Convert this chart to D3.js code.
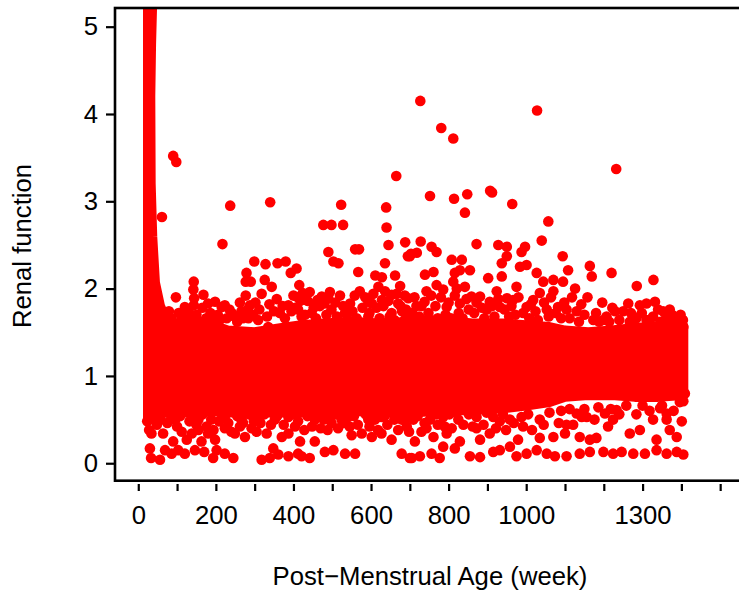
<!DOCTYPE html>
<html>
<head>
<meta charset="utf-8">
<script src="https://cdn.jsdelivr.net/npm/d3@7"></script>
<style>
  body { margin: 0; background: #fff; }
  text { font-family: "Liberation Sans", Arial, Helvetica, sans-serif; }
</style>
</head>
<body>
<script>
// ticks
var xTicks = [0, 100, 200, 300, 400, 500, 600, 700, 800, 900, 1000, 1100, 1200, 1300, 1400, 1500];
var xLabels = [0, 200, 400, 600, 800, 1000, 1300];
var yTicks = [0, 1, 2, 3, 4, 5];

// overplotted solid core of the cloud (week, upper value, lower value)
var coreWeek = [25, 36, 33, 31, 32, 36, 43, 56, 70, 90, 120, 180, 230, 300, 370, 420, 480, 550, 620, 700, 780, 860, 940, 1000, 1060, 1100, 1160, 1220, 1280, 1340, 1405];
var coreHigh = [5.3, 5.3, 4.8, 4.2, 3.2, 2.6, 2.07, 1.8, 1.66, 1.6, 1.58, 1.6, 1.52, 1.5, 1.55, 1.58, 1.6, 1.62, 1.6, 1.62, 1.64, 1.6, 1.6, 1.58, 1.56, 1.52, 1.5, 1.52, 1.55, 1.57, 1.57];
var coreLow = [0.5, 0.5, 0.5, 0.5, 0.5, 0.53, 0.56, 0.58, 0.58, 0.6, 0.58, 0.6, 0.58, 0.58, 0.58, 0.58, 0.6, 0.6, 0.58, 0.58, 0.6, 0.61, 0.63, 0.66, 0.7, 0.76, 0.78, 0.78, 0.76, 0.76, 0.78];

// single points above the core [week, value]
var upperPoints = [
  [90,3.52],[98,3.45],[61,2.82],[237,2.95],[217,2.51],[340,2.99],[727,4.15],[1028,4.04],[781,3.84],[812,3.72],
  [1232,3.37],[665,3.29],[752,3.06],[814,3.03],[848,3.08],[907,3.12],[912,3.1],[964,2.97],[639,2.93],[523,2.96],
  [477,2.73],[498,2.73],[528,2.73],[1057,2.77],[842,2.87],[640,2.7],[569,2.45],[559,2.45],[490,2.42],[503,2.31],
  [516,2.29],[645,2.5],[688,2.53],[636,2.29],[1040,2.55],[728,2.54],[756,2.48],[769,2.42],[872,2.51],[928,2.5],
  [950,2.48],[997,2.48],[988,2.42],[700,2.37],[718,2.41],[695,2.37],[703,2.4],[808,2.33],[834,2.33],[855,2.21],
  [829,2.21],[816,2.18],[937,2.29],[950,2.37],[984,2.25],[1001,2.27],[1094,2.37],[1108,2.21],[1164,2.26],[1169,2.14],
  [1220,2.18],[1285,2.03],[1328,2.1],[761,2.19],[739,2.16],[902,2.12],[937,2.14],[1027,2.18],[1044,2.08],[1070,2.1],
  [1095,2.08],[1126,2.0],[299,2.31],[328,2.28],[359,2.29],[380,2.31],[408,2.23],[393,2.18],[279,2.18],[277,2.08],
  [290,2.08],[326,2.1],[344,2.02],[415,2.04],[424,1.95],[411,1.9],[418,1.86],[143,2.08],[142,1.99],[144,1.89],
  [97,1.9],[168,1.93],[79,1.74],[143,1.81],[198,1.85],[215,1.79],[223,1.81],[277,1.92],[288,1.81],[266,1.74],
  [284,1.66],[365,1.72],[335,1.56],[387,1.81],[404,1.78],[473,1.91],[490,1.89],[455,1.83],[447,1.72],[498,1.76],
  [567,2.19],[611,2.15],[628,2.13],[662,2.15],[675,2.03],[696,1.89],[571,1.97],[593,1.85],[546,1.83],[533,1.72],
  [619,2.02],[636,1.97],[653,1.93],[628,1.87],[602,1.83],[670,1.83],[680,1.74],[462,1.87],[480,1.83],
  [743,1.97],[769,2.04],[786,1.99],[812,2.08],[821,2.0],[842,2.02],[859,1.91],[881,1.91],[924,1.97],[950,1.89],
  [975,2.02],[966,1.87],[906,1.85],[1018,1.87],[1035,1.95],[1070,1.97],[1082,1.79],[1104,1.76],[1130,1.74],
  [1229,1.74],[1263,1.83],[1293,1.81],[1310,1.83],[1332,1.85],[1353,1.74],[1370,1.76],[1267,1.62],[1199,1.64],
  [1310,1.64],[1362,1.66],[1405,1.56],[687,1.92],[717,1.8],[738,1.85],
  [120,1.79],[180,1.83],[241,1.72],[309,1.64],[421,1.68],[541,1.72],[593,1.68],[653,1.72],[687,1.64],
  [795,1.79],[829,1.83],[898,1.76],[932,1.79],[1001,1.79],[1053,1.76],[1173,1.64],[1207,1.68],[1276,1.68],
  [1327,1.68],[1379,1.64],
  [65,1.7],[72,1.62],[85,1.66],[104,1.72],[108,1.62],[118,1.68],[130,1.74],[136,1.64],[150,1.7],[158,1.62],
  [165,1.78],[175,1.66],[186,1.72],[192,1.62],[205,1.7],[210,1.64],[228,1.66],[235,1.76],[248,1.68],[255,1.62],
  [262,1.84],[270,1.66],[282,1.76],[296,1.7],[302,1.84],[312,1.76],[318,1.94],[332,1.68],[338,1.82],[350,1.74],
  [357,1.88],[372,1.8],[378,1.66],[395,1.74],[400,1.92],[412,1.76],[430,1.7],[436,1.86],[442,1.96],[452,1.78],
  [458,1.66],[468,1.8],[485,1.7],[494,1.96],[508,1.84],[512,1.68],[520,1.92],[528,1.8],[538,1.64],[552,1.74],
  [558,1.92],[563,1.66],[578,1.78],[585,1.9],[596,1.72],[606,1.94],[614,1.78],[622,1.66],[632,1.8],[645,1.86],
  [648,1.68],[660,1.64],[666,1.94],[676,1.8],[690,1.76],[694,1.66],[706,1.72],[712,1.9],[724,1.68],[730,1.8],
  [748,1.72],[755,1.92],[766,1.8],[772,1.66],[780,1.9],[792,1.7],[800,1.84],[806,1.66],[816,1.92],[826,1.72],
  [836,1.66],[846,1.88],[852,1.76],[866,1.72],[872,1.84],[886,1.78],[892,1.66],[912,1.8],[918,1.68],[928,1.88],
  [944,1.76],[956,1.68],[962,1.8],[972,1.7],[980,1.9],[992,1.72],[1008,1.66],[1012,1.82],[1024,1.74],[1030,1.64],
  [1046,1.84],[1058,1.68],[1064,1.9],[1076,1.72],[1090,1.66],[1098,1.84],[1112,1.66],[1118,1.9],[1136,1.62],
  [1142,1.82],[1150,1.7],[1158,1.9],[1180,1.72],[1188,1.62],[1196,1.84],[1214,1.62],[1222,1.78],[1240,1.64],
  [1250,1.74],[1270,1.72],[1284,1.66],[1298,1.72],[1318,1.62],[1340,1.76],[1346,1.62],[1358,1.72],[1376,1.7],
  [1388,1.62],[1398,1.7],[1404,1.64]
];

// single points below the core [week, value]
var lowerPoints = [
  [23,0.48],[34,0.34],[30,0.17],[33,0.06],[56,0.04],[69,0.15],[86,0.11],[103,0.15],[120,0.11],[90,0.25],
  [125,0.27],[112,0.36],[138,0.34],[155,0.38],[163,0.25],[146,0.15],[170,0.13],[193,0.06],[223,0.11],[245,0.06],
  [202,0.15],[180,0.34],[198,0.27],[223,0.4],[249,0.34],[275,0.3],[262,0.42],[292,0.4],[318,0.04],[339,0.06],
  [361,0.1],[387,0.08],[412,0.11],[442,0.06],[421,0.08],[348,0.17],[455,0.25],[481,0.13],[503,0.15],[533,0.11],
  [559,0.11],[331,0.34],[370,0.3],[387,0.34],[417,0.25],[404,0.42],[550,0.32],[576,0.34],[602,0.3],[627,0.34],
  [653,0.27],[679,0.11],[705,0.06],[670,0.38],[455,0.5],[498,0.46],[541,0.53],
  [692,0.42],[713,0.25],[700,0.06],[726,0.08],[756,0.11],[777,0.06],[743,0.4],[761,0.3],[795,0.34],[786,0.19],
  [816,0.17],[829,0.25],[855,0.08],[881,0.07],[825,0.5],[872,0.4],[881,0.27],[906,0.34],[915,0.13],[932,0.15],
  [958,0.19],[979,0.27],[975,0.08],[1001,0.11],[1027,0.15],[1053,0.11],[1074,0.08],[1104,0.08],[1035,0.29],
  [1070,0.3],[1100,0.34],[1121,0.44],[1138,0.3],[1164,0.27],[1181,0.29],[1203,0.57],[1211,0.42],[1233,0.61],
  [1138,0.11],[1164,0.13],[1199,0.13],[1224,0.11],[1246,0.13],[1276,0.11],[1306,0.11],[1336,0.15],[1362,0.11],
  [1388,0.13],[1405,0.1],[1267,0.34],[1293,0.38],[1336,0.27],[1362,0.5],[1370,0.38],[1401,0.48],[1388,0.3],
  [1327,0.5],[1345,0.63],[1362,0.57],[1405,0.71],[1409,0.8],
  [1143,0.53],[1104,0.44],[1130,0.57],[1156,0.53],[1224,0.5],
  [709,0.5],[752,0.5],[786,0.53],[812,0.59],[846,0.63],[872,0.53],[915,0.53],[932,0.48],[958,0.5],[988,0.53],[1035,0.5],
  [26,0.57],[95,0.5],[155,0.5],[223,0.53],[266,0.5],[309,0.53],[352,0.5],[387,0.53],[490,0.53],[524,0.5],
  [593,0.5],[627,0.53],[679,0.5],
  [28,0.38],[40,0.56],[48,0.44],[58,0.5],[64,0.34],[75,0.46],[82,0.56],[100,0.42],[108,0.54],[132,0.48],
  [142,0.56],[150,0.44],[166,0.56],[176,0.42],[188,0.5],[194,0.38],[208,0.48],[215,0.56],[232,0.46],[240,0.36],
  [255,0.54],[270,0.46],[285,0.56],[298,0.48],[305,0.36],[315,0.46],[325,0.56],[342,0.44],[358,0.54],[375,0.44],
  [395,0.56],[412,0.48],[428,0.38],[436,0.54],[448,0.42],[462,0.56],[470,0.4],[478,0.5],[488,0.38],[508,0.56],
  [515,0.4],[530,0.46],[545,0.42],[556,0.54],[566,0.44],[586,0.56],[596,0.42],[610,0.5],[618,0.38],[635,0.54],
  [642,0.44],[660,0.5],[672,0.56],[686,0.5],[698,0.36],[720,0.54],[730,0.36],[738,0.46],[768,0.56],[772,0.44],
  [790,0.42],[802,0.56],[808,0.4],[838,0.44],[852,0.56],[862,0.42],[890,0.44],[898,0.58],[922,0.4],[940,0.56],
  [948,0.38],[968,0.46],[992,0.42],[1005,0.56],[1015,0.38],[1045,0.44],[1060,0.58],[1084,0.46],[1090,0.6],
  [1112,0.62],[1150,0.62],[1176,0.5],[1186,0.64],[1218,0.62],[1240,0.56],[1258,0.66],[1284,0.56],[1300,0.66],
  [1318,0.6],[1350,0.66],[1380,0.6],[1396,0.7]
];

var W = 739, H = 591;
var dotR = 5.3;
var red = "#ff0000";

var x = d3.scaleLinear().domain([-60, 1564]).range([115, 745]);
var y = d3.scaleLinear().domain([-0.2, 5.214]).range([480.7, 8]);

var svg = d3.select("body").append("svg")
    .attr("width", W)
    .attr("height", H)
    .style("background", "#fff");

svg.append("clipPath").attr("id", "plotclip")
  .append("rect")
    .attr("x", 115).attr("y", 8)
    .attr("width", 630).attr("height", 472.7);

var plot = svg.append("g").attr("clip-path", "url(#plotclip)");

// dense core drawn as one area, stroked so its edge is as round as the dots
var core = coreWeek.map(function(w, i) { return { w: w, hi: coreHigh[i], lo: coreLow[i] }; });
var area = d3.area()
    .x(function(d) { return x(d.w); })
    .y0(function(d) { return y(d.lo); })
    .y1(function(d) { return y(d.hi); });

plot.append("path")
    .datum(core)
    .attr("d", area)
    .attr("fill", red)
    .attr("stroke", red)
    .attr("stroke-width", 10)
    .attr("stroke-linejoin", "round");

plot.selectAll(".dot")
    .data(upperPoints.concat(lowerPoints))
  .enter().append("circle")
    .attr("class", "dot")
    .attr("cx", function(d) { return x(d[0]); })
    .attr("cy", function(d) { return y(d[1]); })
    .attr("r", dotR)
    .attr("fill", red);

// box (right side falls outside the window)
svg.append("rect")
    .attr("x", 115).attr("y", 8)
    .attr("width", 630).attr("height", 472.7)
    .attr("fill", "none")
    .attr("stroke", "#000")
    .attr("stroke-width", 2.6);

var xAxis = svg.append("g")
    .attr("transform", "translate(0,484)")
    .call(d3.axisBottom(x)
        .tickValues(xTicks)
        .tickSize(7)
        .tickPadding(15)
        .tickFormat(function(d) { return xLabels.indexOf(d) >= 0 ? d : ""; }));

var yAxis = svg.append("g")
    .attr("transform", "translate(115,0)")
    .call(d3.axisLeft(y)
        .tickValues(yTicks)
        .tickSize(9)
        .tickPadding(8)
        .tickFormat(d3.format("d")));

[xAxis, yAxis].forEach(function(g) {
  g.select(".domain").remove();
  g.selectAll(".tick line").attr("stroke", "#000").attr("stroke-width", 2.2);
  g.selectAll(".tick text")
    .attr("fill", "#000")
    .style("font-family", "'Liberation Sans', Arial, Helvetica, sans-serif")
    .style("font-size", "25.7px");
});

svg.append("text")
    .attr("x", 430)
    .attr("y", 585)
    .attr("text-anchor", "middle")
    .attr("font-size", "25.7px")
    .attr("fill", "#000")
    .text("Post\u2212Menstrual Age (week)");

svg.append("text")
    .attr("transform", "translate(31,246) rotate(-90)")
    .attr("text-anchor", "middle")
    .attr("font-size", "25.7px")
    .attr("fill", "#000")
    .text("Renal function");
</script>
</body>
</html>
